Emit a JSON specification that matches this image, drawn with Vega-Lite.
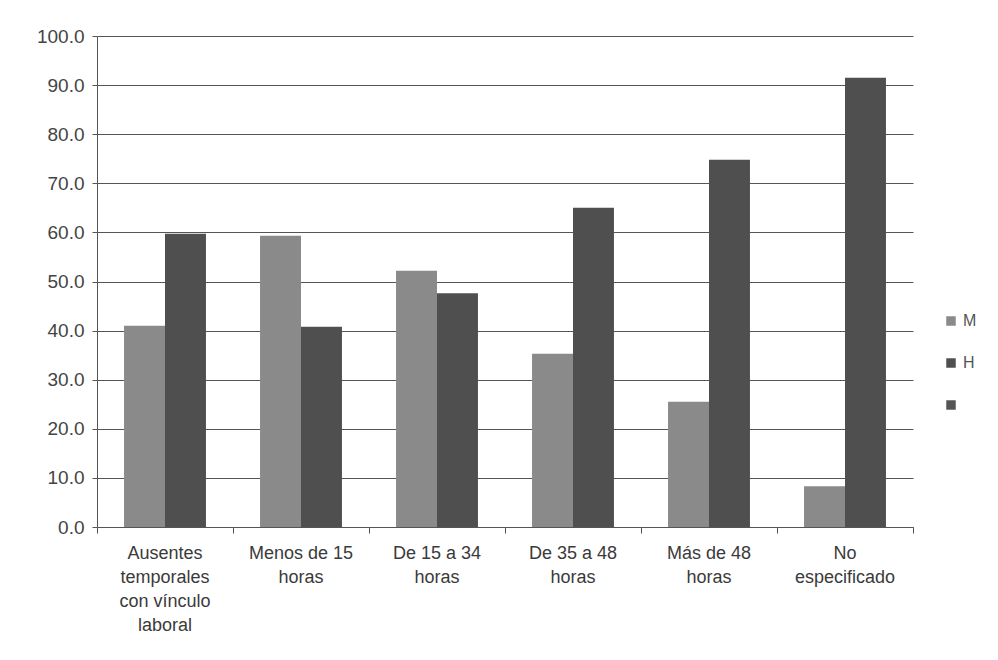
{
  "$schema": "https://vega.github.io/schema/vega-lite/v6.json",
  "width": 816,
  "height": 491,
  "autosize": {"type": "none"},
  "padding": {"left": 97, "top": 36, "right": 85, "bottom": 133},
  "background": "white",
  "data": {
    "values": [
      {"cat": "Ausentes temporales con vínculo laboral", "sexo": "M", "valor": 41.0},
      {"cat": "Ausentes temporales con vínculo laboral", "sexo": "H", "valor": 59.7},
      {"cat": "Menos de 15 horas", "sexo": "M", "valor": 59.3},
      {"cat": "Menos de 15 horas", "sexo": "H", "valor": 40.8},
      {"cat": "De 15 a 34 horas", "sexo": "M", "valor": 52.2},
      {"cat": "De 15 a 34 horas", "sexo": "H", "valor": 47.6},
      {"cat": "De 35 a 48 horas", "sexo": "M", "valor": 35.3},
      {"cat": "De 35 a 48 horas", "sexo": "H", "valor": 65.0},
      {"cat": "Más de 48 horas", "sexo": "M", "valor": 25.5},
      {"cat": "Más de 48 horas", "sexo": "H", "valor": 74.8},
      {"cat": "No especificado", "sexo": "M", "valor": 8.3},
      {"cat": "No especificado", "sexo": "H", "valor": 91.5}
    ]
  },
  "layer": [
    {
      "mark": {"type": "bar"},
      "encoding": {
        "x": {
          "field": "cat",
          "type": "nominal",
          "sort": null,
          "scale": {"paddingInner": 0, "paddingOuter": 0},
          "axis": {
            "title": null,
            "orient": "bottom",
            "labelAngle": 0,
            "labelFont": "Liberation Sans",
            "labelFontSize": 18,
            "labelColor": "#3a3a3a",
            "labelLineHeight": 24,
            "labelPadding": 17,
            "labelBaseline": "top",
            "ticks": false,
            "domainColor": "#555555",
            "labelExpr": "datum.value == 'Ausentes temporales con vínculo laboral' ? ['Ausentes','temporales','con vínculo','laboral'] : datum.value == 'Menos de 15 horas' ? ['Menos de 15','horas'] : datum.value == 'De 15 a 34 horas' ? ['De 15 a 34','horas'] : datum.value == 'De 35 a 48 horas' ? ['De 35 a 48','horas'] : datum.value == 'Más de 48 horas' ? ['Más de 48','horas'] : ['No','especificado']"
          }
        },
        "xOffset": {
          "field": "sexo",
          "type": "nominal",
          "sort": ["M", "H"],
          "scale": {"paddingInner": 0, "paddingOuter": 0.66}
        },
        "y": {
          "field": "valor",
          "type": "quantitative",
          "scale": {"domain": [0, 100], "nice": false},
          "axis": {
            "title": null,
            "values": [0, 10, 20, 30, 40, 50, 60, 70, 80, 90, 100],
            "format": ".1f",
            "labelFont": "Liberation Sans",
            "labelFontSize": 19,
            "labelColor": "#444444",
            "labelPadding": 8,
            "grid": true,
            "gridColor": "#555555",
            "gridWidth": 1,
            "tickColor": "#555555",
            "tickSize": 5,
            "domainColor": "#555555"
          }
        },
        "color": {
          "field": "sexo",
          "type": "nominal",
          "scale": {"domain": ["M", "H", " "], "range": ["#8a8a8a", "#4f4f4f", "#555555"]},
          "legend": {
            "title": null,
            "orient": "none",
            "legendX": 846,
            "legendY": 277,
            "symbolType": "square",
            "symbolSize": 90,
            "symbolStrokeWidth": 0,
            "labelFont": "Liberation Sans",
            "labelFontSize": 16,
            "labelColor": "#555555",
            "rowPadding": 26,
            "labelOffset": 4
          }
        }
      }
    },
    {
      "mark": {"type": "bar", "opacity": 0},
      "encoding": {
        "x": {
          "field": "cat",
          "type": "nominal",
          "sort": null,
          "axis": {
            "title": null,
            "orient": "bottom",
            "labels": false,
            "domain": false,
            "ticks": true,
            "tickBand": "extent",
            "tickSize": 6,
            "tickColor": "#555555"
          }
        },
        "y": {"field": "valor", "type": "quantitative"}
      }
    }
  ],
  "resolve": {"axis": {"x": "independent"}},
  "config": {
    "view": {"stroke": null},
    "axis": {"domainWidth": 1}
  }
}
